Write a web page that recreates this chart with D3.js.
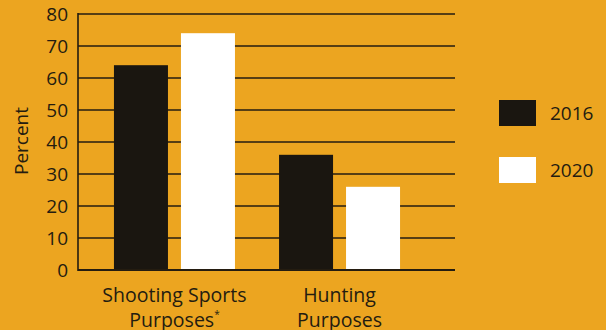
<!DOCTYPE html>
<html lang="en">
<head>
  <meta charset="UTF-8">
  <title>Shooting vs Hunting Purposes</title>
  <style>
    body { margin: 0; background: #eca520; }
    svg { display: block; font-family: "Open Sans", sans-serif; }
  </style>
  <script src="https://d3js.org/d3.v7.min.js"></script>
</head>
<body>
<svg width="606" height="330"></svg>
<script>
  const categories = [["Shooting Sports", "Purposes*"], ["Hunting", "Purposes"]];
  const years = ["2016", "2020"];
  const values2016 = [64, 36];
  const values2020 = [74, 26];
  const yTicks = [0, 10, 20, 30, 40, 50, 60, 70, 80];

  const bg = "#eca520", ink = "#241c10", dark = "#1a1610";
  const colors = { "2016": dark, "2020": "#ffffff" };

  const svg = d3.select("svg");
  svg.append("rect").attr("width", 606).attr("height", 330).attr("fill", bg);

  const plotLeft = 78, plotRight = 455, plotTop = 14, plotBottom = 270;

  const y = d3.scaleLinear().domain([0, 80]).range([plotBottom, plotTop]);
  const x = d3.scaleBand().domain(d3.range(categories.length)).range([92, 422]).paddingInner(0.267).paddingOuter(0.133);
  const xSub = d3.scaleBand().domain(years).range([0, x.bandwidth()]).paddingInner(0.194);

  // gridlines
  svg.append("g").selectAll("line")
    .data(yTicks.filter(d => d > 0))
    .enter().append("line")
      .attr("x1", plotLeft).attr("x2", plotRight)
      .attr("y1", d => y(d)).attr("y2", d => y(d))
      .attr("stroke", ink).attr("stroke-width", 1.4);

  // tick labels
  svg.append("g").selectAll("text")
    .data(yTicks)
    .enter().append("text")
      .attr("x", 68).attr("y", d => y(d))
      .attr("dy", "0.36em")
      .attr("text-anchor", "end")
      .attr("fill", ink).attr("font-size", 19)
      .text(d => d);

  // bars
  const series = categories.map((c, i) => [
    { key: "2016", value: values2016[i] },
    { key: "2020", value: values2020[i] }
  ]);
  const groups = svg.append("g").selectAll("g")
    .data(series)
    .enter().append("g")
      .attr("transform", (d, i) => `translate(${x(i)},0)`);
  groups.selectAll("rect")
    .data(d => d)
    .enter().append("rect")
      .attr("x", d => xSub(d.key))
      .attr("width", xSub.bandwidth())
      .attr("y", d => y(d.value))
      .attr("height", d => y(0) - y(d.value))
      .attr("fill", d => colors[d.key]);

  // axes lines
  svg.append("line").attr("x1", plotLeft).attr("x2", plotLeft).attr("y1", plotTop - 1).attr("y2", plotBottom + 1)
    .attr("stroke", ink).attr("stroke-width", 1.6);
  svg.append("line").attr("x1", plotLeft).attr("x2", plotRight).attr("y1", plotBottom).attr("y2", plotBottom)
    .attr("stroke", ink).attr("stroke-width", 2.2);

  // category labels
  const catText = svg.append("g").selectAll("text")
    .data(categories)
    .enter().append("text")
      .attr("x", (d, i) => x(i) + x.bandwidth() / 2)
      .attr("y", 302)
      .attr("text-anchor", "middle")
      .attr("fill", ink).attr("font-size", 19.5);
  catText.each(function(d) {
    const t = d3.select(this);
    d.forEach((line, j) => {
      const ts = t.append("tspan").attr("x", t.attr("x")).attr("dy", j === 0 ? 0 : 25);
      if (line.endsWith("*")) {
        ts.text(line.slice(0, -1));
        t.append("tspan").attr("font-size", 10).attr("dy", -9).text("*");
      } else {
        ts.text(line);
      }
    });
  });

  // y label
  svg.append("text")
    .attr("transform", "translate(28,141) rotate(-90)")
    .attr("text-anchor", "middle")
    .attr("fill", ink).attr("font-size", 19)
    .text("Percent");

  // legend
  const legend = svg.append("g").selectAll("g")
    .data(years)
    .enter().append("g")
      .attr("transform", (d, i) => `translate(499,${100 + i * 57})`);
  legend.append("rect").attr("width", 37).attr("height", 26).attr("fill", d => colors[d]);
  legend.append("text")
    .attr("x", 51).attr("y", 13).attr("dy", "0.36em")
    .attr("fill", ink).attr("font-size", 19)
    .text(d => d);
</script>
</body>
</html>
